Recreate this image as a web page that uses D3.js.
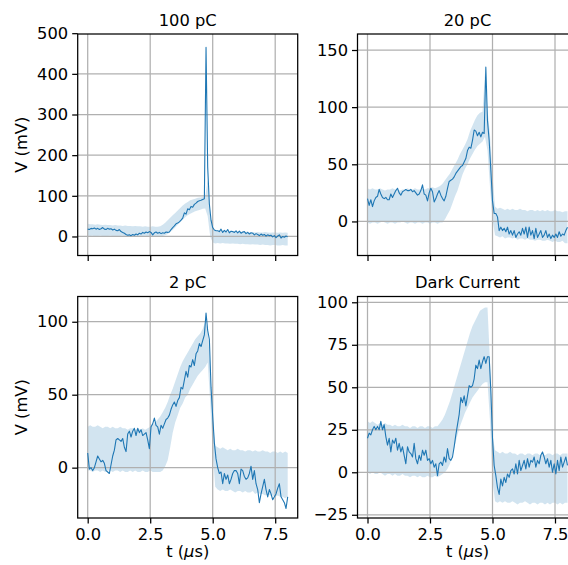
<!DOCTYPE html>
<html>
<head>
<meta charset="utf-8">
<script src="https://cdn.jsdelivr.net/npm/d3@7"></script>
<style>
  html, body { margin: 0; padding: 0; background: #fff; }
  svg { display: block; font-family: "DejaVu Sans", sans-serif; }
</style>
</head>
<body>
<svg id="fig" width="568" height="565"></svg>
<script>
// Panel titles (row-major order)
const titles = ["100 pC", "20 pC", "2 pC", "Dark Current"];

// Sampling grids (µs): traces on 121 points, spread bands on 81 points
const tTrace = d3.range(121).map(i => i * 8 / 120);
const tBand = d3.range(81).map(i => i / 10);

// Single traces (mV)
const v100 = [18, 17, 20, 19, 21, 18, 20, 17, 19, 22, 18, 17, 20, 18, 19,
  16, 18, 15, 14, 17, 12, 10, 8,
  5, 3, 4, 2, 5, 3, 6, 4, 8, 6, 10, 8, 11, 9, 12,
  10, 4, 9, 11, 8, 10, 7, 9, 8, 11,
  10, 11, 17, 22, 26, 31, 33, 36, 40,
  45, 58, 55, 68, 66, 74, 72, 79, 82, 86, 88, 89, 91, 93,
  465, 170, 80, 40, 22, 16, 14,
  14, 12, 18, 10, 15, 11, 17, 9, 13, 12, 10, 14,
  9, 13, 8, 11, 12, 7, 10, 6, 9, 8,
  4, 7, 5, 2, 6, 3, 5, 1, 4, 2,
  3, -1, 2, -3, 1, 4, -4, 0, -2, 1, -1];

const v20 = [20, 14, 19, 13, 18, 21, 22, 28, 24, 21,
  20, 21, 19, 19, 24, 21, 24, 27, 29, 25,
  23, 26, 27, 28, 27, 27, 28, 26, 27, 25,
  23, 24, 27, 32, 24, 23, 18, 25, 29, 26,
  17, 20, 24, 27, 23, 20, 18, 22, 29, 35,
  36, 37, 39, 42, 44, 46, 48, 49, 52, 55,
  62, 65, 64, 71, 80, 79, 75, 78, 74, 78,
  77, 135, 88, 71, 45, 18, 7, 7, 4, -8,
  -5, -8, -6, -9, -5, -11, -8, -12, -8, -14,
  -11, -9, -12, -6, -11, -5, -14, -5, -12, -8,
  -15, -6, -14, -11, -8, -14, -12, -8, -14, -11,
  -15, -12, -14, -11, -14, -9, -13, -11, -12, -8,
  -5];

const v2 = [10, -1, 0, -2, 0, 4, 8, 6, 4, 5,
  3, -2, -3, -4, 2, 8, 12, 19, 20, 19,
  18, 20, 14, 11, 23, 25, 21, 25, 27, 22,
  27, 24, 26, 22, 23, 24, 19, 13, 28, 30,
  34, 29, 28, 23, 29, 27, 30, 33, 34, 36,
  40, 43, 45, 42, 46, 48, 55, 54, 60, 66,
  62, 70, 69, 74, 70, 78, 80, 85, 83, 87,
  91, 106, 94, 88, 55, 35, 17, 6, 0, -4,
  -3, -11, -4, -8, -5, -11, -8, -4, -2, -2,
  -4, -11, -1, -2, -6, -8, -7, -4, 1, -8,
  -2, -11, -15, -24, -18, -13, -8, -15, -20, -15,
  -18, -22, -20, -18, -14, -11, -20, -22, -24, -28,
  -20];

const vDark = [20, 23, 22, 25, 27, 25, 27, 25, 30, 25,
  28, 21, 16, 20, 12, 19, 17, 20, 13, 17,
  12, 15, 10, 5, 15, 12, 11, 9, 17, 8,
  5, 10, 7, 13, 10, 13, 7, 8, 5, 7,
  3, 5, -2, 5, 6, 4, 9, 6, 14, 8,
  7, 9, 15, 22, 28, 34, 44, 41, 45, 39,
  45, 51, 50, 51, 55, 63, 61, 66, 61, 65,
  68, 64, 68, 68, 48, 20, 4, -2, -9, -13,
  -4, -8, -3, -6, -1, -3, 1, 2, -1, 5,
  -1, 7, 1, 4, 7, 2, 8, 3, 7, 6,
  9, 3, 7, 5, 10, 12, 9, 5, 8, 3,
  7, 0, 5, -1, 7, 1, 9, 3, 6, 9,
  4];

// Spread bands: lower and upper edges (mV)
const lo100 = [2, 1, 2, 0, 1, 2, 1, 0, 1, 2, 1, 0, 1, 1, 2, 0, 1, 1, 0, 1, 1, 0, 1, 2, 0, 1, 1, 0, 1, 0,
  1, 3, 6, 11, 16, 22, 29, 35, 41, 47, 52, 56, 59, 62, 64, 66, 68, 69,
  50, 0, -15, -17,
  -16, -17, -16, -17, -17, -18, -17, -18, -18, -19, -18, -19, -19, -20, -19, -20, -20, -21, -20, -21,
  -21, -22, -21, -21, -22, -22, -21, -22, -22];
const hi100 = [31, 30, 30, 29, 30, 29, 28, 29, 28, 28, 27, 28, 27, 27, 26, 27, 26, 26, 25, 26, 25, 25, 24, 25, 24, 24, 25, 24, 24, 25,
  29, 34, 40, 46, 52, 58, 64, 70, 76, 81, 85, 89, 91, 93, 95, 96, 97, 98,
  140, 50, 20, 13,
  14, 13, 14, 13, 12, 13, 12, 12, 11, 12, 11, 11, 12, 10, 11, 10, 11, 10, 10, 11,
  10, 9, 10, 10, 9, 10, 9, 10, 9];

const lo20 = [-1, -2, -1, -1, -2, -1, 0, -1, -2, -1, -1, -2, -1, -1, 0, -1, -2, -1, -1, -2, -1, -1, -2, -1, -1, -2, -1, -1, -2, -1,
  -1,
  2, 6, 10, 16, 22, 27, 34, 41, 46, 50, 55, 59, 63, 66, 68, 70, 74,
  62, 30, 2, -12,
  -13, -14, -13, -15, -14, -14, -15, -14, -16, -15, -15, -16, -15, -16, -16, -17, -16, -16, -17, -17,
  -16, -17, -18, -17, -18, -18, -17, -19, -19];
const hi20 = [29, 28, 29, 28, 28, 29, 28, 27, 28, 28, 29, 28, 28, 27, 28, 28, 29, 28, 28, 29, 28, 28, 29, 28, 29, 29, 30, 29, 30, 31,
  33,
  36, 39, 42, 46, 50, 54, 59, 63, 67, 72, 79, 84, 89, 93, 95, 96, 130,
  98, 76, 40, 13,
  11, 12, 11, 10, 11, 10, 11, 10, 10, 11, 10, 10, 9, 10, 10, 9, 10, 9, 10, 9,
  10, 9, 9, 10, 9, 9, 8, 9, 9];

const lo2 = [-2, -2, -3, -2, -2, -3, -2, -3, -2, -2, -3, -2, -2, -3, -2, -3, -3, -2, -3, -2, -3, -3, -2, -3, -3, -2, -3, -3, -3, -3,
  -2,
  1, 5, 14, 24, 31, 36, 41, 44, 48, 50, 54, 57, 60, 63, 65, 67, 69,
  72, 45, 10, -13,
  -15, -16, -15, -16, -16, -15, -16, -17, -16, -16, -17, -16, -17, -17, -16, -18, -17, -18, -18, -19,
  -18, -19, -19, -20, -19, -20, -20, -21, -20];
const hi2 = [28, 29, 28, 28, 29, 28, 27, 28, 28, 27, 28, 27, 27, 28, 27, 27, 26, 27, 27, 26, 27, 26, 27, 26, 27, 28,
  29, 31, 33, 35, 38, 41, 45, 50, 54, 59, 64, 69, 73, 76, 79, 82, 85, 88, 90, 92, 95, 100,
  95, 70, 35, 15,
  14, 13, 14, 13, 12, 13, 12, 12, 13, 12, 12, 11, 12, 12, 11, 12, 11, 11, 12, 11,
  11, 10, 11, 11, 10, 11, 10, 11, 10];

const loDark = [0, -1, 0, -1, -1, 0, -1, -2, -1, -1, -2, -1, -2, -2, -1, -2, -2, -3, -2, -2, -3, -2, -3, -3, -2, -3, -3, -2, -3, -2,
  -1,
  0, 2, 5, 10, 16, 22, 27, 31, 35, 38, 41, 44, 46, 48, 50, 52, 53,
  53, 30, -5, -17,
  -18, -17, -18, -17, -18, -18, -17, -18, -19, -18, -18, -17, -18, -19, -18, -18, -19, -18, -18, -19,
  -18, -19, -18, -18, -19, -18, -19, -18, -18];
const hiDark = [30, 29, 30, 29, 28, 29, 28, 29, 28, 28, 27, 28, 27, 27, 28, 27, 27, 26, 27, 27, 26, 27, 27, 26, 27, 27, 26, 27,
  27, 29, 31,
  34, 38, 42, 47, 52, 57, 62, 67, 72, 77, 82, 86, 89, 92, 95, 96, 97,
  97, 65, 22, 13,
  12, 11, 12, 11, 11, 12, 11, 11, 10, 11, 11, 10, 11, 11, 10, 11, 11, 10, 11, 10,
  11, 11, 10, 11, 11, 10, 11, 11, 11];

// Axis limits and ticks
const xLim = [-0.4, 8.4];
const xTicks = [0, 2.5, 5, 7.5];
const yLims = [[-46.8, 498], [-29.8, 164], [-34.5, 117.3], [-26.9, 103.4]];
const yTicks = [[0, 100, 200, 300, 400, 500], [0, 50, 100, 150], [0, 50, 100], [-25, 0, 25, 50, 75, 100]];

const traces = [v100, v20, v2, vDark];
const lows = [lo100, lo20, lo2, loDark];
const highs = [hi100, hi20, hi2, hiDark];

// Layout
const colX = [77.7, 357.5];
const rowY = [34, 296.5];
const axW = 220, axH = 221.5;
const blue = "#1f77b4";
const fontSize = 16.3;

const svg = d3.select("#fig");
svg.append("rect").attr("width", 568).attr("height", 565).attr("fill", "#fff");

titles.forEach((title, k) => {
  const row = Math.floor(k / 2), col = k % 2;
  const x0 = colX[col], y0 = rowY[row];
  const g = svg.append("g").attr("transform", `translate(${x0},${y0})`);

  const x = d3.scaleLinear().domain(xLim).range([0, axW]);
  const y = d3.scaleLinear().domain(yLims[k]).range([axH, 0]);

  const clipId = "clip" + k;
  g.append("clipPath").attr("id", clipId)
    .append("rect").attr("width", axW).attr("height", axH);
  const plot = g.append("g").attr("clip-path", `url(#${clipId})`);

  // spread band
  const bandData = tBand.map((t, i) => ({ t, lo: lows[k][i], hi: highs[k][i] }));
  plot.append("path")
    .datum(bandData)
    .attr("fill", blue)
    .attr("fill-opacity", 0.2)
    .attr("d", d3.area().x(d => x(d.t)).y0(d => y(d.lo)).y1(d => y(d.hi)));

  // grid
  plot.selectAll(".gx").data(xTicks).join("line")
    .attr("x1", d => x(d)).attr("x2", d => x(d))
    .attr("y1", 0).attr("y2", axH)
    .attr("stroke", "#b0b0b0").attr("stroke-width", 1.25);
  plot.selectAll(".gy").data(yTicks[k]).join("line")
    .attr("x1", 0).attr("x2", axW)
    .attr("y1", d => y(d)).attr("y2", d => y(d))
    .attr("stroke", "#b0b0b0").attr("stroke-width", 1.25);

  // trace
  const lineData = tTrace.map((t, i) => ({ t, v: traces[k][i] }));
  plot.append("path")
    .datum(lineData)
    .attr("fill", "none")
    .attr("stroke", blue)
    .attr("stroke-width", 1.1)
    .attr("stroke-linejoin", "round")
    .attr("d", d3.line().x(d => x(d.t)).y(d => y(d.v)));

  // axes
  const yAxis = d3.axisLeft(y).tickValues(yTicks[k]).tickSize(5.5).tickPadding(4)
    .tickFormat(d3.format("d"));
  const ga = g.append("g").call(yAxis);
  const xAxis = d3.axisBottom(x).tickValues(xTicks).tickSize(5.5).tickPadding(5)
    .tickFormat(row === 1 ? d3.format(".1f") : () => "");
  const gb = g.append("g").attr("transform", `translate(0,${axH})`).call(xAxis);
  [ga, gb].forEach(a => {
    a.select(".domain").remove();
    a.selectAll(".tick line").attr("stroke", "#000").attr("stroke-width", 1.25);
    a.selectAll(".tick text").attr("fill", "#000")
      .style("font-size", fontSize + "px").style("font-family", "DejaVu Sans");
  });

  // spines
  g.append("rect").attr("width", axW).attr("height", axH)
    .attr("fill", "none").attr("stroke", "#000").attr("stroke-width", 1.25);

  // title
  g.append("text").attr("x", axW / 2).attr("y", -8.5)
    .attr("text-anchor", "middle").attr("font-size", fontSize).attr("fill", "#000")
    .text(title);

  // axis labels
  if (col === 0) {
    g.append("text")
      .attr("transform", `translate(${27.5 - x0},${axH / 2}) rotate(-90)`)
      .attr("text-anchor", "middle").attr("font-size", fontSize).attr("fill", "#000")
      .text("V (mV)");
  }
  if (row === 1) {
    const xl = g.append("text")
      .attr("x", axW / 2).attr("y", 557 - y0)
      .attr("text-anchor", "middle").attr("font-size", fontSize).attr("fill", "#000");
    xl.append("tspan").text("t (");
    xl.append("tspan").attr("font-style", "italic").text("\u03bc");
    xl.append("tspan").text("s)");
  }
});
</script>
</body>
</html>
